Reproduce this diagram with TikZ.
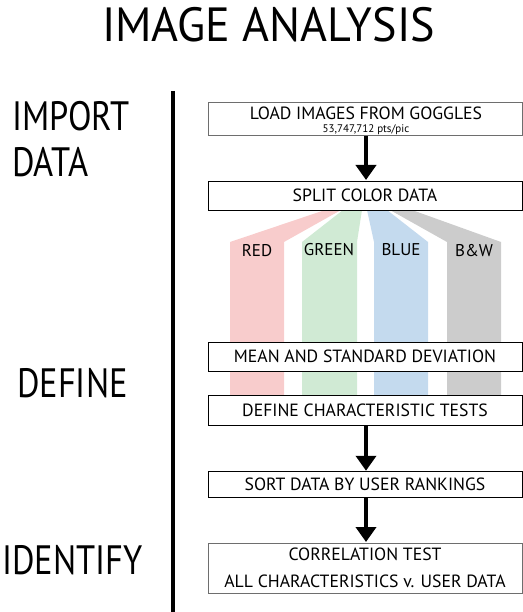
\documentclass[tikz,border=0pt]{standalone}
\usepackage{fontspec}
\setmainfont{PT Sans}
\newfontfamily\sidefont[FakeStretch=0.84]{PT Sans}
\newfontfamily\titlefont[FakeStretch=0.96]{PT Sans}
\usetikzlibrary{arrows.meta}
\definecolor{bred}{RGB}{248,204,204}
\definecolor{bgreen}{RGB}{208,234,212}
\definecolor{bblue}{RGB}{196,218,238}
\definecolor{bgray}{RGB}{204,204,204}
\definecolor{edgegray}{RGB}{110,110,110}
\tikzset{
  stepbox/.style={draw=black, line width=1bp, fill=white, minimum width=314bp, inner sep=0pt,
    font=\fontsize{17.7bp}{26.5bp}\selectfont, align=center},
  flowarrow/.style={line width=4.5bp, -{Triangle[width=20bp,length=15bp]}, shorten >=0.5bp},
  sidelabel/.style={font=\sidefont\fontsize{41bp}{46bp}\selectfont, anchor=west, align=left, inner sep=0pt},
  bandlabel/.style={font=\fontsize{17bp}{20bp}\selectfont, inner sep=0pt}
}
\begin{document}
\begin{tikzpicture}[x=1bp,y=-1bp]
\useasboundingbox (0,0) rectangle (523,612);
% title
\node[font=\titlefont\fontsize{48bp}{52bp}\selectfont, inner sep=0pt] (title) at (268.5,25) {IMAGE ANALYSIS};
% side labels
\node[sidelabel] (import) at (12,139) {IMPORT\\DATA};
\node[sidelabel] (define) at (17,383) {DEFINE};
\node[sidelabel] (identify) at (2,560) {IDENTIFY};
% vertical rule
\coordinate (vtop) at (172.5,91);
\coordinate (vbot) at (172.5,612);
\draw[line width=4bp] (vtop) -- (vbot);
% colour bands
\fill[bred]   (325,210) -- (341,210) -- (284,242) -- (284,396) -- (230,396) -- (230,242) -- cycle;
\fill[bgreen] (343,210) -- (362,210) -- (357,242) -- (357,396) -- (302,396) -- (302,242) -- cycle;
\fill[bblue]  (367,210) -- (387,210) -- (428,242) -- (428,396) -- (374,396) -- (374,242) -- cycle;
\fill[bgray]  (390,210) -- (412,210) -- (501,242) -- (501,396) -- (447,396) -- (447,242) -- cycle;
\node[bandlabel] (red) at (257,251) {RED};
\node[bandlabel] (green) at (329,250) {GREEN};
\node[bandlabel] (blue) at (401,250) {BLUE};
\node[bandlabel] (bw) at (474,251) {B\&W};
% boxes
\node[stepbox, draw=edgegray, minimum height=33bp] (load) at (365,119.5) {};
\node[font=\fontsize{17.7bp}{20bp}\selectfont, inner sep=0pt] (loadt) at (366,113.5) {LOAD IMAGES FROM GOGGLES};
\node[font=\fontsize{11bp}{13bp}\selectfont, inner sep=0pt] (loads) at (366,129.5) {53,747,712 pts/pic};
\node[stepbox, minimum height=29bp] (split) at (365,195.5) {SPLIT COLOR DATA};
\node[stepbox, minimum height=29bp] (mean) at (365,356.5) {MEAN AND STANDARD DEVIATION};
\node[stepbox, minimum height=30bp] (deftests) at (365,410) {DEFINE CHARACTERISTIC TESTS};
\node[stepbox, minimum height=25.5bp] (sort) at (365,484.5) {SORT DATA BY USER RANKINGS};
\node[stepbox, draw=edgegray, minimum height=50bp] (corr) at (365,568) {CORRELATION TEST\\ALL CHARACTERISTICS v. USER DATA};
% arrows
\draw[flowarrow] (load.south -| 366,0) -- (split.north -| 366,0);
\draw[flowarrow] (deftests.south -| 366,0) -- (sort.north -| 366,0);
\draw[flowarrow] (sort.south -| 366,0) -- (corr.north -| 366,0);
\end{tikzpicture}
\end{document}
